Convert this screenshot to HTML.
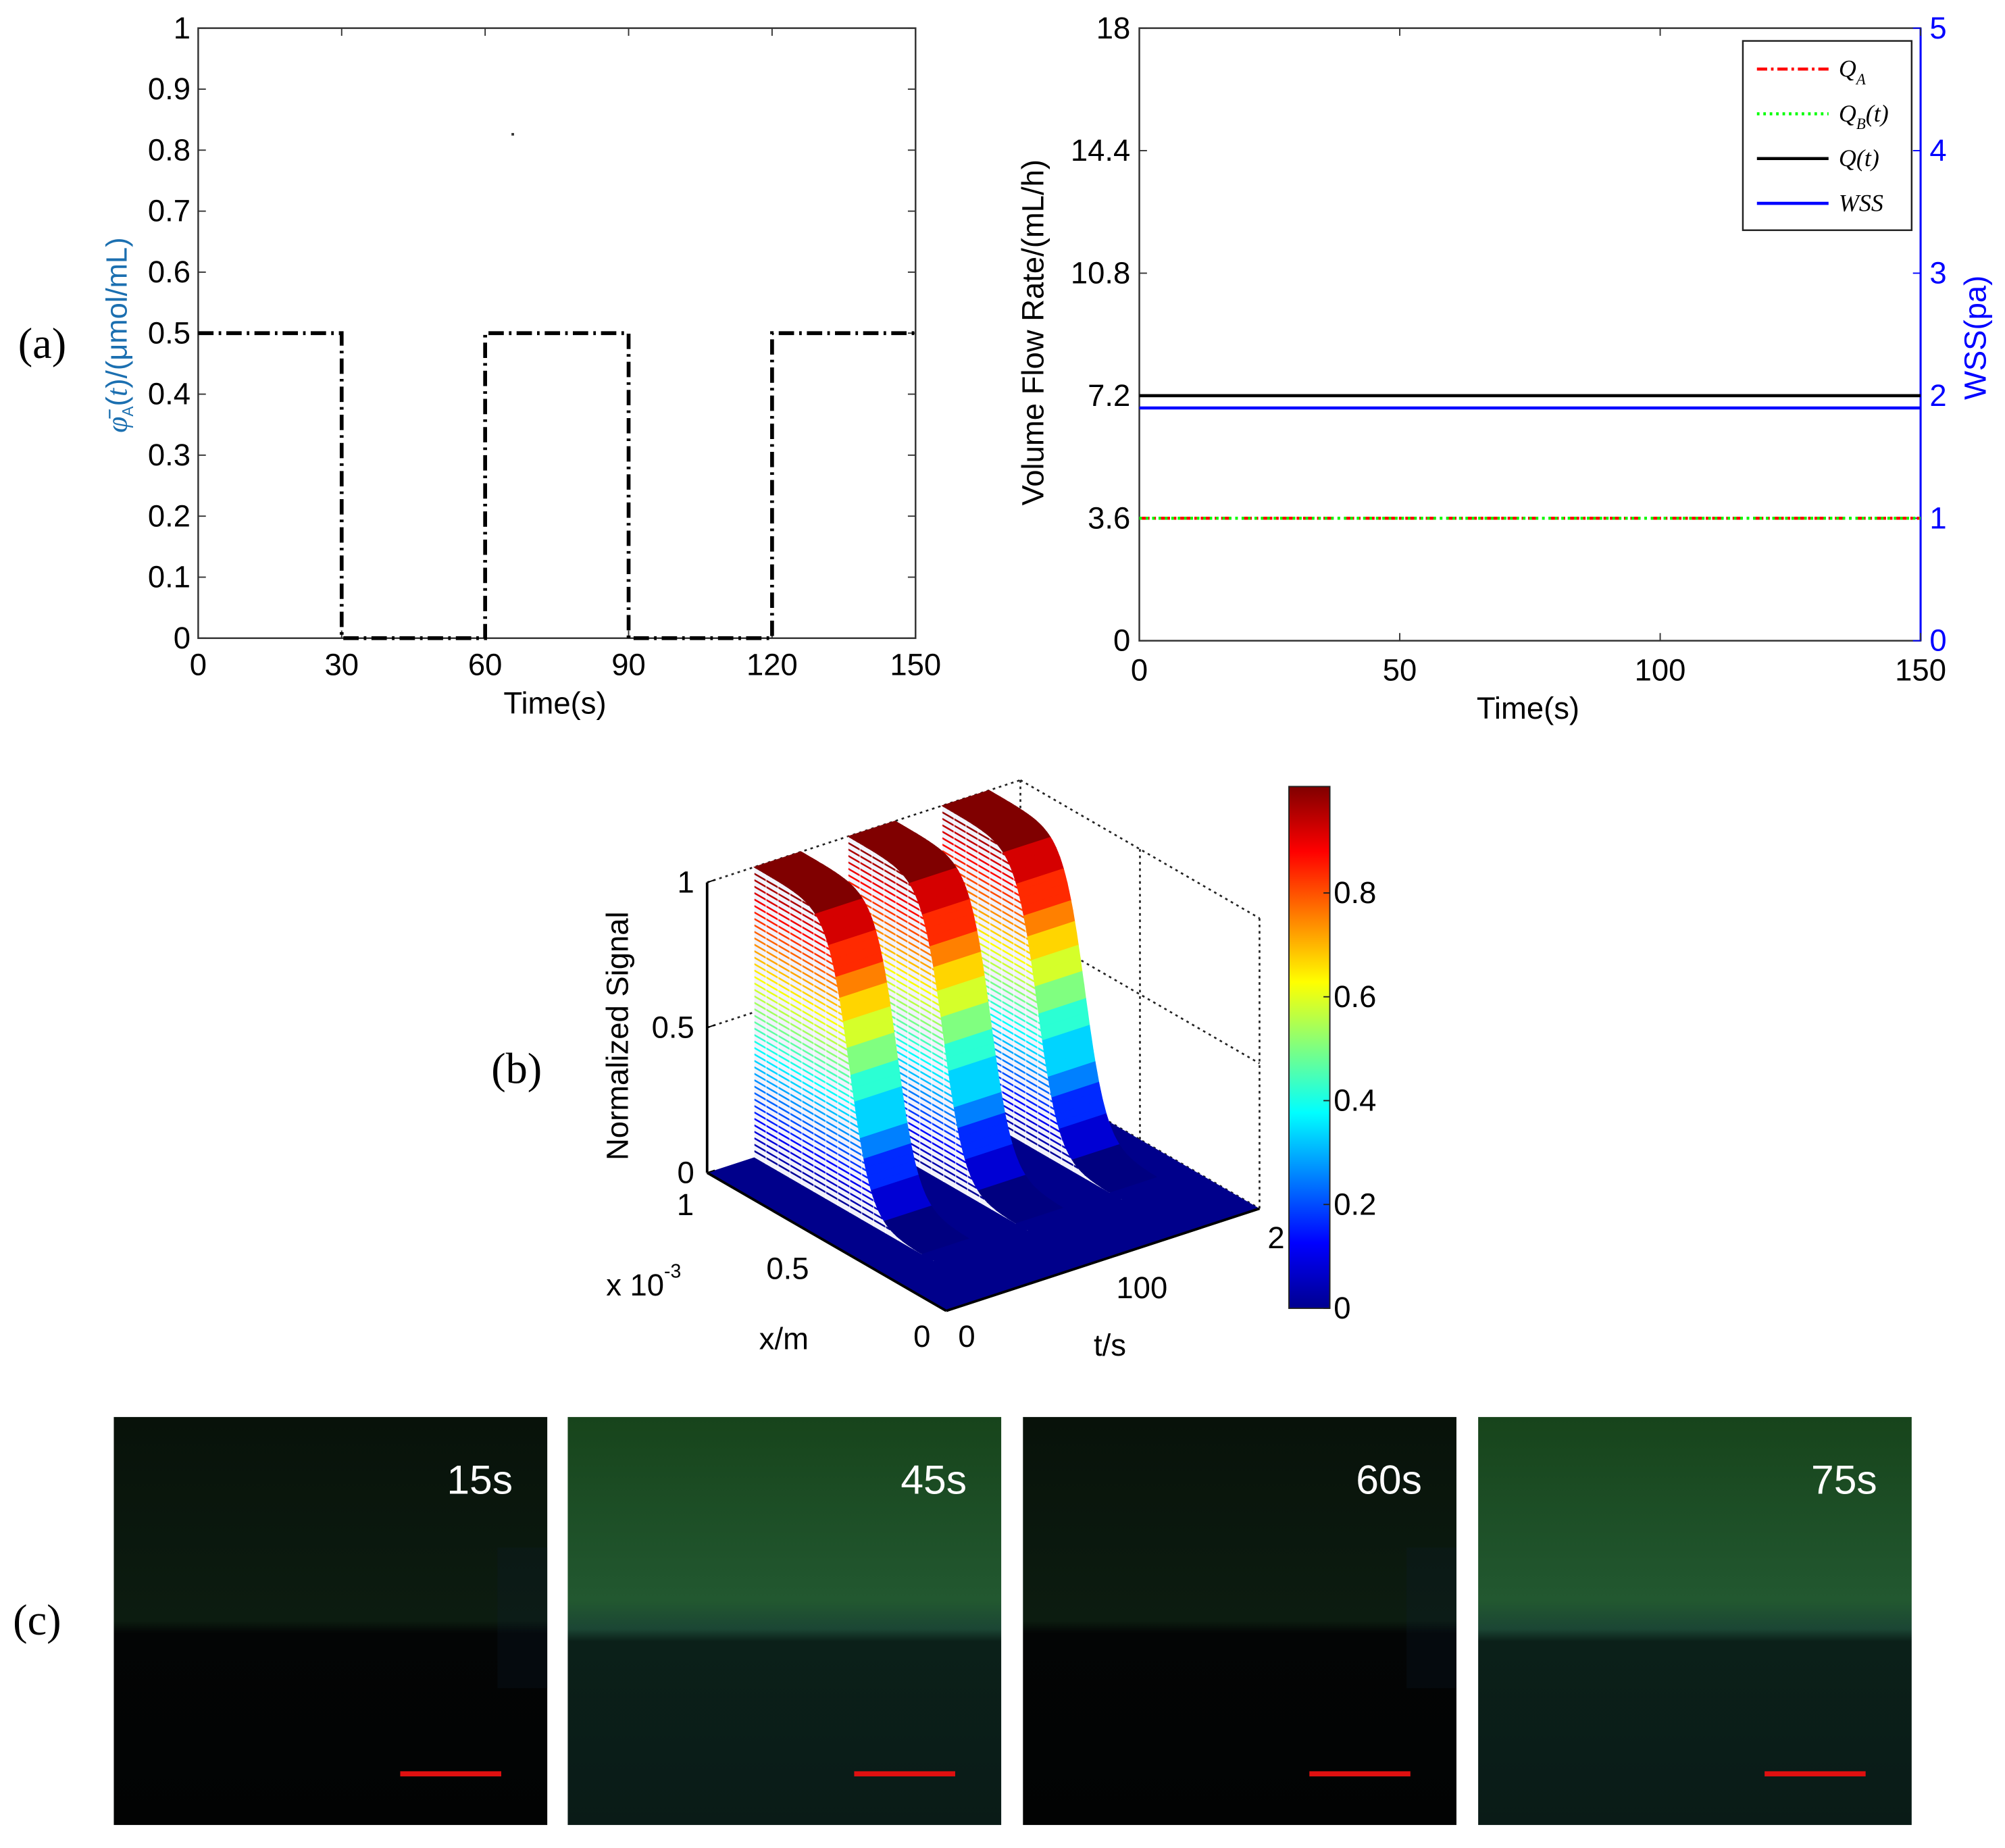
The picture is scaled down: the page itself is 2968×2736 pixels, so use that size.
<!DOCTYPE html>
<html><head><meta charset="utf-8"><style>
html,body{margin:0;padding:0;background:#fff;}
svg{display:block;}
text{font-family:"Liberation Sans",sans-serif;}
.serif{font-family:"Liberation Serif",serif;}
</style></head><body>
<svg id="fig" xmlns="http://www.w3.org/2000/svg" width="2968" height="2736" viewBox="0 0 1568 1445" preserveAspectRatio="none">
<defs>
<linearGradient id="jet" x1="0" y1="1" x2="0" y2="0">
<stop offset="0" stop-color="#00008f"/><stop offset="0.125" stop-color="#0000ff"/><stop offset="0.375" stop-color="#00ffff"/><stop offset="0.625" stop-color="#ffff00"/><stop offset="0.875" stop-color="#ff0000"/><stop offset="1" stop-color="#800000"/>
</linearGradient>
<linearGradient id="dark" x1="0" y1="0" x2="0" y2="1">
<stop offset="0" stop-color="#08120a"/><stop offset="0.5" stop-color="#0c1c10"/><stop offset="0.53" stop-color="#030505"/><stop offset="1" stop-color="#020303"/>
</linearGradient>
<linearGradient id="green" x1="0" y1="0" x2="0" y2="1">
<stop offset="0" stop-color="#17441b"/><stop offset="0.45" stop-color="#225830"/><stop offset="0.52" stop-color="#1b4634"/><stop offset="0.55" stop-color="#0b2019"/><stop offset="1" stop-color="#0a1b17"/>
</linearGradient>
</defs>
<g id="layer"></g>
</svg>
<script>
// ---- Panel (a) left chart data ----
const concTimes = [0, 30, 30, 60, 60, 90, 90, 120, 120, 150];
const concValues = [0.5, 0.5, 0, 0, 0.5, 0.5, 0, 0, 0.5, 0.5];
const concXTicks = [0, 30, 60, 90, 120, 150];
const concYTicks = [0, 0.1, 0.2, 0.3, 0.4, 0.5, 0.6, 0.7, 0.8, 0.9, 1];
// ---- Panel (a) right chart data ----
const flowTimes = [0, 150];
const flowQA = [3.6, 3.6];
const flowQB = [3.6, 3.6];
const flowQ = [7.2, 7.2];
const flowWSS = [1.9, 1.9];
const flowXTicks = [0, 50, 100, 150];
const flowYTicks = [0, 3.6, 7.2, 10.8, 14.4, 18];
const wssTicks = [0, 1, 2, 3, 4, 5];
// ---- Panel (b) surface data ----
const pulseStarts = [30, 90, 150];
const pulseWidths = [30, 30, 30];
const decayCenter = [0.6];
const decayScale = [0.045];
const zTicks = [0, 0.5, 1];
const cbTicks = [0, 0.2, 0.4, 0.6, 0.8];
// ---- Panel (c) ----
const frameLabels = ["15s", "45s", "60s", "75s"];

const NS = "http://www.w3.org/2000/svg";
const L = document.getElementById('layer');
function mk(tag, attrs, parent){const e=document.createElementNS(NS,tag);for(const k in attrs)e.setAttribute(k,attrs[k]);(parent||L).appendChild(e);return e;}
function txt(s, x, y, size, anchor, fill, parent, extra){const e=mk('text',Object.assign({x:x,y:y,'font-size':size,'text-anchor':anchor||'middle',fill:fill||'#000'},extra||{}),parent);e.textContent=s;return e;}
const FS=24;

// ===== (a) left =====
const gA = mk('g',{});


const xa = t => 155 + t/150*561;
const ya = v => 499 - v*477;
mk('rect',{x:155,y:22,width:561,height:477,fill:'none',stroke:'#333','stroke-width':1.3},gA);
concXTicks.forEach(t=>{
  mk('line',{x1:xa(t),y1:499,x2:xa(t),y2:493,stroke:'#333'},gA);
  mk('line',{x1:xa(t),y1:22,x2:xa(t),y2:28,stroke:'#333'},gA);
  const e=txt(String(t),xa(t),528,FS,'middle','#000',gA);
  
  
});
concYTicks.forEach(v=>{
  mk('line',{x1:155,y1:ya(v),x2:161,y2:ya(v),stroke:'#333'},gA);
  mk('line',{x1:716,y1:ya(v),x2:710,y2:ya(v),stroke:'#333'},gA);
  const e=txt(String(v),149,ya(v)+8,FS,'end','#000',gA);
  
  
});
const pa = mk('polyline',{points:concTimes.map((t,i)=>xa(t)+','+ya(concValues[i])).join(' '),fill:'none',stroke:'#000','stroke-width':3,'stroke-dasharray':'12,4,2,4'},gA);


const xta=txt('Time(s)',434,558,FS,'middle','#000',gA);


const yla = mk('text',{transform:'translate(99,262) rotate(-90)','font-size':23,'text-anchor':'middle',fill:'#1b6fb0'},gA);


yla.innerHTML='<tspan font-style="italic" font-family="Liberation Serif">φ̄</tspan><tspan font-size="12" dy="5">A</tspan><tspan dy="-5">(</tspan><tspan font-style="italic" font-family="Liberation Serif">t</tspan><tspan>)/(μmol/mL)</tspan>';
mk('rect',{x:400,y:104,width:2,height:2,fill:'#333'},gA);
const la=txt('(a)',33,280,34,'middle','#000',L,{'class':'serif'});



// ===== (a) right =====
const gB = mk('g',{});


const xb = t => 891 + t/150*611;
const yb = v => 501 - v/18*479;
const yw = w => 501 - w/5*479;
mk('rect',{x:891,y:22,width:611,height:479,fill:'none',stroke:'#333','stroke-width':1.3},gB);
mk('line',{x1:1502,y1:22,x2:1502,y2:501,stroke:'#0000ff','stroke-width':1.6},gB);
flowXTicks.forEach(t=>{
  mk('line',{x1:xb(t),y1:501,x2:xb(t),y2:495,stroke:'#333'},gB);
  mk('line',{x1:xb(t),y1:22,x2:xb(t),y2:28,stroke:'#333'},gB);
  const e=txt(String(t),xb(t),532,FS,'middle','#000',gB);
  
  
});
flowYTicks.forEach(v=>{
  mk('line',{x1:891,y1:yb(v),x2:897,y2:yb(v),stroke:'#333'},gB);
  const e=txt(String(v),884,yb(v)+8,FS,'end','#000',gB);
  
  
});
wssTicks.forEach(v=>{
  mk('line',{x1:1502,y1:yw(v),x2:1496,y2:yw(v),stroke:'#0000ff'},gB);
  const e=txt(String(v),1509,yw(v)+8,FS,'start','#0000ff',gB);
  
  
});
function flowLine(vals, yf, color, dash, name){
  const e=mk('polyline',{points:flowTimes.map((t,i)=>xb(t)+','+yf(vals[i])).join(' '),fill:'none',stroke:color,'stroke-width':2.4,'stroke-dasharray':dash},gB);
  
  
}
flowLine(flowQA, yb, '#ff0000', '8,3,2,3', 'qa-line');
flowLine(flowQB, yb, '#00ff00', '2,3', 'qb-line');
flowLine(flowQ, yb, '#000', 'none', 'q-line');
flowLine(flowWSS, yw, '#0000ff', 'none', 'wss-line');
const xtb=txt('Time(s)',1195,562,FS,'middle','#000',gB);


const ylb=txt('Volume Flow Rate/(mL/h)',0,0,FS,'middle','#000',gB,{transform:'translate(816,260) rotate(-90)'});


const yrb=txt('WSS(pa)',0,0,FS,'middle','#0000ff',gB,{transform:'translate(1553,264) rotate(-90)'});


// legend
const lg = mk('g',{},gB);


mk('rect',{x:1363,y:32,width:132,height:148,fill:'#fff',stroke:'#222','stroke-width':1.3},lg);
const legItems=[['#ff0000','8,3,2,3','Q','A',''],['#00ff00','2,3','Q','B','(t)'],['#000','none','Q','','(t)'],['#0000ff','none','WSS','','']];
legItems.forEach((it,i)=>{
  const y=54+i*35;
  const en=mk('g',{},lg);
  
  
  mk('line',{x1:1374,y1:y,x2:1430,y2:y,stroke:it[0],'stroke-width':2.4,'stroke-dasharray':it[1]},en);
  const t=mk('text',{x:1438,y:y+6,'font-size':19,'font-style':'italic','class':'serif'},en);
  t.innerHTML=it[2]+(it[3]?'<tspan font-size="12" dy="6">'+it[3]+'</tspan><tspan dy="-6">'+it[4]+'</tspan>':it[4]);
});

// ===== (b) 3D surface =====
const gC = mk('g',{});


function P(u,t,z){return [740 - u*187 + t/200*245, 1025 - u*108 - t/200*80 - z*227];}
function pts(arr){return arr.map(p=>p[0].toFixed(1)+','+p[1].toFixed(1)).join(' ');}
function zu(u){return 1/(1+Math.exp(-(u-decayCenter[0])/decayScale[0]));}
function jet(v){
  const r=Math.max(0,Math.min(1,1.5-Math.abs(4*v-3))), g=Math.max(0,Math.min(1,1.5-Math.abs(4*v-2))), b=Math.max(0,Math.min(1,1.5-Math.abs(4*v-1)));
  return 'rgb('+Math.round(r*255)+','+Math.round(g*255)+','+Math.round(b*255)+')';
}
const dot={stroke:'#222','stroke-width':1.4,'stroke-dasharray':'2,3',fill:'none'};
[[P(1,0,1),P(1,200,1)],[P(1,200,1),P(0,200,1)],[P(1,200,0),P(1,200,1)],[P(0,200,0),P(0,200,1)],[P(1,0,0.5),P(1,200,0.5)],[P(1,200,0.5),P(0,200,0.5)],[P(1,100,0),P(1,100,1)],[P(0.5,200,0),P(0.5,200,1)],[P(1,200,0),P(0,200,0)]].forEach(s=>mk('line',Object.assign({x1:s[0][0],y1:s[0][1],x2:s[1][0],y2:s[1][1]},dot),gC));
const fl=mk('polygon',{points:pts([P(0,0,0),P(1,0,0),P(1,200,0),P(0,200,0)]),fill:'#00008b'},gC);


const U0=0.3;
for(let k=pulseStarts.length-1;k>=0;k--){
  const t0=pulseStarts[k], t1=Math.min(200,t0+pulseWidths[k]);
  const rg=mk('g',{},gC);
  
  
  const N=70, wall=[];
  for(let i=0;i<=N;i++){const u=1-i/N*(1-U0); wall.push(P(u,t0,zu(u)));}
  wall.push(P(U0,t0,0)); wall.push(P(1,t0,0));
  mk('polygon',{points:pts(wall),fill:'#f2f2fc'},rg);
  for(let j=1;j<45;j++){
    const lv=j/45;
    const uEnd=decayCenter[0]+decayScale[0]*Math.log(lv/(1-lv));
    const a=P(1,t0,lv), b=P(uEnd,t0,lv);
    mk('line',{x1:a[0],y1:a[1],x2:b[0],y2:b[1],stroke:jet(lv),'stroke-width':1.3},rg);
  }
  for(let i=0;i<16;i++){const u=1-i*0.05; const a=P(u,t0,0), b=P(u,t0,zu(u));
    mk('line',{x1:a[0],y1:a[1],x2:b[0],y2:b[1],stroke:'#fff','stroke-width':0.8,opacity:0.7},rg);}
  const M=90;
  for(let i=0;i<M;i++){
    const ua=1-i/M*(1-U0), ub=1-(i+1)/M*(1-U0);
    const za=zu(ua), zb=zu(ub);
    const c=jet(Math.round(((za+zb)/2)*12)/12);
    mk('polygon',{points:pts([P(ua,t0,za),P(ua,t1,za),P(ub,t1,zb),P(ub,t0,zb)]),fill:c,stroke:c,'stroke-width':0.6},rg);
  }
}
mk('line',{x1:553,y1:690,x2:553,y2:917,stroke:'#000','stroke-width':2},gC);
zTicks.forEach(z=>{const p=P(1,0,z);mk('line',{x1:p[0],y1:p[1],x2:p[0]+6,y2:p[1]-2,stroke:'#000'},gC);
  const e=txt(String(z),p[0]-10,p[1]+8,FS,'end','#000',gC);
  
  });
mk('line',{x1:P(1,0,0)[0],y1:P(1,0,0)[1],x2:P(0,0,0)[0],y2:P(0,0,0)[1],stroke:'#000','stroke-width':2},gC);
mk('line',{x1:P(0,0,0)[0],y1:P(0,0,0)[1],x2:P(0,200,0)[0],y2:P(0,200,0)[1],stroke:'#000','stroke-width':2},gC);
[['1',536,950],['0.5',616,1000],['0',721,1053]].forEach(a=>{const e=txt(a[0],a[1],a[2],FS,'middle','#000',gC);});
[['0',756,1053],['100',893,1015],['2',998,976]].forEach(a=>{const e=txt(a[0],a[1],a[2],FS,'middle','#000',gC);});
const ex=mk('text',{x:474,y:1013,'font-size':FS},gC);ex.innerHTML='x 10<tspan font-size="15" dy="-14">-3</tspan>';


const xl=txt('x/m',613,1055,FS,'middle','#000',gC);


const tl=txt('t/s',868,1060,FS,'middle','#000',gC);


const zl=txt('Normalized Signal',0,0,FS,'middle','#000',gC,{transform:'translate(491,810) rotate(-90)'});


const cb=mk('g',{},gC);


mk('rect',{x:1008,y:615,width:32,height:408,fill:'url(#jet)',stroke:'#222','stroke-width':1},cb);
cbTicks.forEach(v=>{const y=1023-v*408/1.005;
  mk('line',{x1:1040,y1:y,x2:1035,y2:y,stroke:'#222'},cb);
  const e=txt(String(v),1043,y+8,FS,'start','#000',cb);
  
  });
const lb=txt('(b)',404,847,34,'middle','#000',L,{'class':'serif'});



// ===== (c) images =====
const frames=[[89,'url(#dark)'],[444,'url(#green)'],[800,'url(#dark)'],[1156,'url(#green)']];
frames.forEach((f,i)=>{
  const g=mk('g',{});
  
  
  mk('rect',{x:f[0],y:1108,width:339,height:319,fill:f[1]},g);
  if(i%2==0) mk('rect',{x:f[0]+300,y:1210,width:39,height:110,fill:'#0b1a2a',opacity:0.25},g);
  txt(frameLabels[i],f[0]+312,1168,32,'end','#fff',g);
  mk('rect',{x:f[0]+224,y:1385,width:79,height:4,fill:'#e01010'},g);
});
const lc=txt('(c)',29,1278,34,'middle','#000',L,{'class':'serif'});


</script>
</body></html>
